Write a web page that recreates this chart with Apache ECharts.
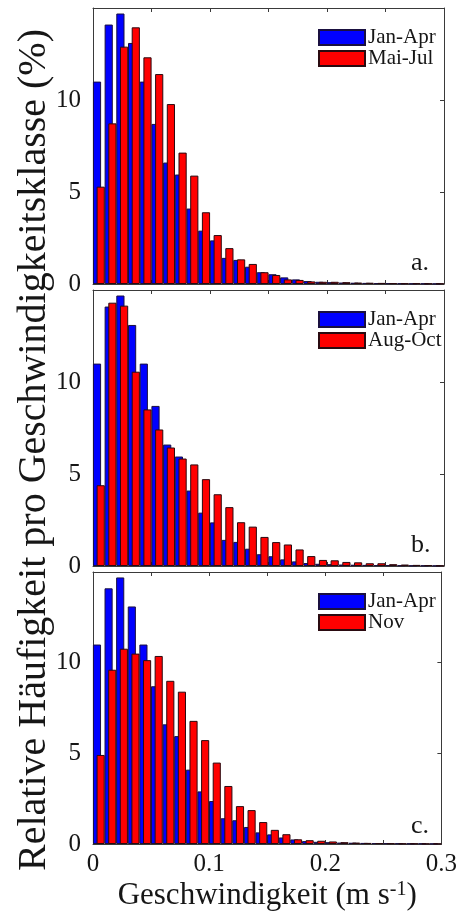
<!DOCTYPE html>
<html>
<head>
<meta charset="utf-8">
<script src="https://cdn.jsdelivr.net/npm/echarts@6/dist/echarts.min.js"></script>
<style>
html,body{margin:0;padding:0;background:#fff;}
#chart{width:460px;height:912px;}
</style>
</head>
<body>
<div id="chart"></div>
<script>
// Bin centres (m s-1), bin width 0.01
const bins = ['0.005','0.015','0.025','0.035','0.045','0.055','0.065','0.075','0.085','0.095',
              '0.105','0.115','0.125','0.135','0.145','0.155','0.165','0.175','0.185','0.195',
              '0.205','0.215','0.225','0.235','0.245','0.255','0.265','0.275','0.285','0.295'];

// Relative frequency per speed class (%)
const janApr = [11.0, 14.1, 14.7, 13.1, 11.0, 8.7, 6.6, 5.95, 4.1, 2.9,
                2.37, 1.42, 1.31, 0.94, 0.64, 0.53, 0.36, 0.25, 0.16, 0.12,
                0.1, 0.08, 0.07, 0.06, 0.05, 0.05, 0.04, 0.03, 0.03, 0.02];
const maiJul = [5.29, 8.73, 12.9, 13.95, 12.32, 11.41, 9.78, 7.14, 5.89, 3.9,
                2.66, 1.95, 1.34, 1.09, 0.64, 0.49, 0.25, 0.22, 0.14, 0.12,
                0.12, 0.1, 0.08, 0.07, 0.06, 0.05, 0.04, 0.04, 0.03, 0.03];
const augOct = [4.39, 14.31, 14.15, 10.56, 8.51, 7.42, 6.44, 5.84, 5.52, 4.72,
                3.9, 3.2, 2.38, 2.14, 1.58, 1.3, 1.17, 0.9, 0.54, 0.33,
                0.31, 0.22, 0.2, 0.15, 0.15, 0.1, 0.08, 0.06, 0.05, 0.03];
const nov    = [4.91, 9.61, 10.77, 10.5, 10.14, 10.37, 9.0, 8.4, 6.79, 5.73,
                4.49, 3.2, 2.09, 1.87, 1.21, 0.78, 0.54, 0.26, 0.21, 0.18,
                0.14, 0.1, 0.08, 0.06, 0.05, 0.04, 0.03, 0.03, 0.02, 0.02];

const seriesNames = ['Jan-Apr', 'Mai-Jul', 'Aug-Oct', 'Nov'];
const panelLabels = ['a.', 'b.', 'c.'];
const xTickLabels = ['0', '0.1', '0.2', '0.3'];
const yTickLabels = ['0', '5', '10'];

const FONT = '"Liberation Serif", "Times New Roman", serif';
const TXT = '#161616';
const AX = '#3a3a3a';

const tops = [8, 290, 572];
const heights = [276, 276, 275];
const compare = [maiJul, augOct, nov];
const compareNames = [seriesNames[1], seriesNames[2], seriesNames[3]];

const grid = [], xAxis = [], yAxis = [], series = [], legend = [], graphic = [];

function xFmt(v){
  const r = Math.round(v * 100);
  if (r % 10 !== 0) return '';
  return xTickLabels[r / 10] || '';
}
function yFmt(v){
  const r = Math.round(v);
  if (r % 5 !== 0) return '';
  return yTickLabels[r / 5] || '';
}

for (let i = 0; i < 3; i++) {
  grid.push({left: 93, width: 351, top: tops[i], height: heights[i]});
  const lineStyle = {color: AX, width: 1};
  // category axis that positions the bars
  xAxis.push({type: 'category', gridIndex: i, data: bins, show: false, boundaryGap: true});
  // value axes for ticks / labels
  xAxis.push({
    type: 'value', gridIndex: i, position: 'bottom', min: 0, max: 0.3, interval: 0.05,
    axisLine: {show: true, onZero: false, lineStyle},
    axisTick: {show: true, inside: true, length: 4, lineStyle},
    axisLabel: {show: i === 2, formatter: xFmt, fontFamily: FONT, fontSize: 25, color: TXT, margin: 8},
    splitLine: {show: false},
    name: i === 2 ? 'Geschwindigkeit (m s{sup|-1})' : '',
    nameLocation: 'middle', nameGap: 36,
    nameTextStyle: {fontFamily: FONT, fontSize: 31, color: TXT,
      rich: {sup: {fontFamily: FONT, fontSize: 20, color: TXT, verticalAlign: 'top', lineHeight: 31}}}
  });
  xAxis.push({
    type: 'value', gridIndex: i, position: 'top', min: 0, max: 0.3, interval: 0.05,
    axisLine: {show: true, onZero: false, lineStyle},
    axisTick: {show: true, inside: true, length: 4, lineStyle},
    axisLabel: {show: false}, splitLine: {show: false}
  });
  yAxis.push({
    type: 'value', gridIndex: i, position: 'left', min: 0, max: 15, interval: 5,
    axisLine: {show: true, onZero: false, lineStyle},
    axisTick: {show: true, inside: true, length: 4, lineStyle},
    axisLabel: {formatter: yFmt, showMaxLabel: false, fontFamily: FONT, fontSize: 25, color: TXT, margin: 12},
    splitLine: {show: false}
  });
  yAxis.push({
    type: 'value', gridIndex: i, position: 'right', min: 0, max: 15, interval: 5,
    axisLine: {show: true, onZero: false, lineStyle},
    axisTick: {show: true, inside: true, length: 4, lineStyle},
    axisLabel: {show: false}, splitLine: {show: false}
  });
  series.push({
    name: seriesNames[0], type: 'bar', xAxisIndex: 3 * i, yAxisIndex: 2 * i,
    data: janApr, barWidth: '70%', barGap: '-55%',
    itemStyle: {color: '#0000ff', borderColor: '#1a1040', borderWidth: 1}
  });
  series.push({
    name: compareNames[i], type: 'bar', xAxisIndex: 3 * i, yAxisIndex: 2 * i,
    data: compare[i], barWidth: '70%', barGap: '-55%',
    itemStyle: {color: '#ff0000', borderColor: '#2a0a10', borderWidth: 1}
  });
  legend.push({
    data: [seriesNames[0], compareNames[i]], orient: 'vertical',
    left: 313, top: tops[i] + 14, itemWidth: 46, itemHeight: 15, itemGap: 0,
    icon: 'rect', selectedMode: false,
    textStyle: {fontFamily: FONT, fontSize: 21, color: TXT, lineHeight: 20, padding: [0, 0, 0, -2]}
  });
  graphic.push({
    type: 'text', left: 411, top: tops[i] + heights[i] - 34,
    style: {text: panelLabels[i], font: '26px ' + FONT, fill: TXT}
  });
}

graphic.push({
  type: 'text', x: 34, y: 450, rotation: Math.PI / 2,
  style: {text: 'Relative Häufigkeit pro Geschwindigkeitsklasse (%)', font: '40px ' + FONT,
    fill: TXT, textAlign: 'center', textVerticalAlign: 'middle'}
});

const chart = echarts.init(document.getElementById('chart'), null, {renderer: 'canvas'});
chart.setOption({
  animation: false,
  backgroundColor: '#ffffff',
  grid, xAxis, yAxis, series, legend, graphic
});
</script>
</body>
</html>
